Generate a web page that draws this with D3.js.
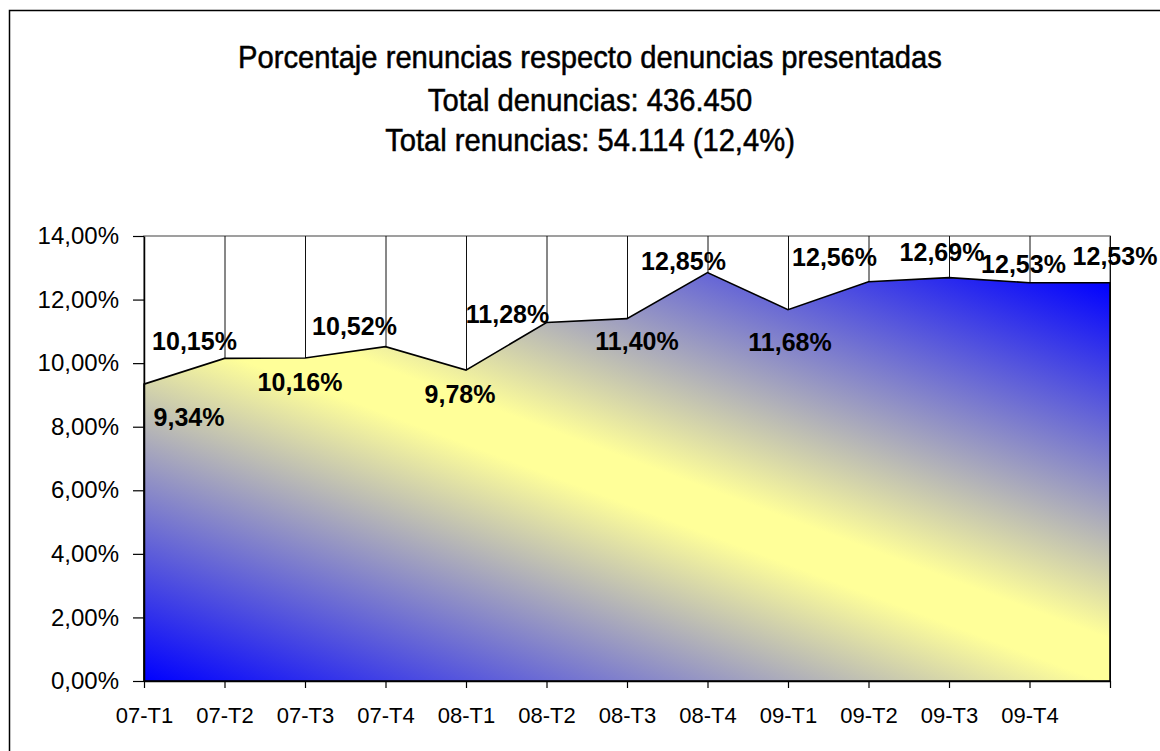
<!DOCTYPE html>
<html>
<head>
<meta charset="utf-8">
<script src="https://cdn.jsdelivr.net/npm/d3@7"></script>
<style>
  body { margin: 0; background: #fff; }
  svg { display: block; }
</style>
</head>
<body>
<div id="chart"></div>
<script>
// quarters (last point has no label on the axis)
var categories = ['07-T1', '07-T2', '07-T3', '07-T4', '08-T1', '08-T2', '08-T3', '08-T4',
    '09-T1', '09-T2', '09-T3', '09-T4', ''];
// % renuncias / denuncias
var values = [9.34, 10.15, 10.16, 10.52, 9.78, 11.28, 11.40, 12.85, 11.68, 12.56, 12.69, 12.53, 12.53];
var yTicks = [0, 2, 4, 6, 8, 10, 12, 14];
var titleLines = [
    'Porcentaje renuncias respecto denuncias presentadas',
    'Total denuncias: 436.450',
    'Total renuncias: 54.114 (12,4%)'
];
// hand placed data labels (dx, dy from the point), like in the original sheet
var labelShift = [[45, 33], [-30, -17], [-5, 24], [-31, -21], [-6, 24], [-39, -8], [10, 22],
    [-24, -12], [2, 32], [-34, -25], [-7, -26], [-6, -19], [5, -27]];

var W = 1160, H = 751;
var margin = { top: 236, right: 50, bottom: 70, left: 144 };

var es = d3.formatLocale({ decimal: ',', thousands: '.', grouping: [3], currency: ['', '€'] });
var fmt = es.format('.2f');
var pct = function (v) { return fmt(v) + '%'; };

var svg = d3.select('#chart')
    .append('svg')
    .attr('width', W)
    .attr('height', H);

// outer frame (runs off the right and bottom edges)
svg.append('rect')
    .attr('x', 9.5)
    .attr('y', 10.5)
    .attr('width', 1300)
    .attr('height', 900)
    .attr('fill', 'none')
    .attr('stroke', '#000')
    .attr('stroke-width', 1.5);

var x = d3.scalePoint()
    .domain(categories)
    .range([margin.left, W - margin.right]);

var y = d3.scaleLinear()
    .domain([0, 14])
    .range([H - margin.bottom, margin.top]);

// blue - yellow - blue band, tilted a bit off vertical
var gradLen = 712;
var gradDir = [0.35, -0.937];
var defs = svg.append('defs');
var grad = defs.append('linearGradient')
    .attr('id', 'fillGrad')
    .attr('gradientUnits', 'userSpaceOnUse')
    .attr('x1', x.range()[0])
    .attr('y1', y(0))
    .attr('x2', x.range()[0] + gradDir[0] * gradLen)
    .attr('y2', y(0) + gradDir[1] * gradLen);
grad.append('stop').attr('offset', '0%').attr('stop-color', '#0000ff');
grad.append('stop').attr('offset', '47%').attr('stop-color', '#ffff99');
grad.append('stop').attr('offset', '53%').attr('stop-color', '#ffff99');
grad.append('stop').attr('offset', '100%').attr('stop-color', '#0000ff');

// plot frame + vertical gridlines
var plot = svg.append('g');
plot.append('rect')
    .attr('x', x.range()[0])
    .attr('y', y(14))
    .attr('width', x.range()[1] - x.range()[0])
    .attr('height', y(0) - y(14))
    .attr('fill', '#fff')
    .attr('stroke', '#808080')
    .attr('stroke-width', 1.5);

plot.selectAll('.grid')
    .data(categories.slice(1))
    .enter()
    .append('line')
    .attr('class', 'grid')
    .attr('x1', function (d) { return x(d) + 0.5; })
    .attr('x2', function (d) { return x(d) + 0.5; })
    .attr('y1', y(14))
    .attr('y2', y(0))
    .attr('stroke', '#111')
    .attr('stroke-width', 1);

var area = d3.area()
    .x(function (d, i) { return x(categories[i]); })
    .y0(y(0))
    .y1(function (d) { return y(d); });

plot.append('path')
    .datum(values)
    .attr('d', area)
    .attr('fill', 'url(#fillGrad)')
    .attr('stroke', '#000')
    .attr('stroke-width', 1.6)
    .attr('stroke-linejoin', 'miter');

// axes
var xAxis = d3.axisBottom(x).tickSize(7).tickSizeOuter(0).tickPadding(19);
var yAxis = d3.axisLeft(y).tickValues(yTicks).tickSize(11).tickSizeOuter(0).tickPadding(14).tickFormat(pct);

var gx = svg.append('g')
    .attr('transform', 'translate(0,' + y(0) + ')')
    .call(xAxis);
gx.selectAll('text')
    .attr('font-family', 'Arial, "Liberation Sans", sans-serif')
    .attr('font-size', 22)
    .attr('fill', '#000');

var gy = svg.append('g')
    .attr('transform', 'translate(' + margin.left + ',0)')
    .call(yAxis);
gy.selectAll('text')
    .attr('font-family', 'Arial, "Liberation Sans", sans-serif')
    .attr('font-size', 24)
    .attr('fill', '#000');

[gx, gy].forEach(function (g) {
    g.select('.domain').attr('stroke', '#000').attr('stroke-width', 1.5);
    g.selectAll('.tick line').attr('stroke', '#000').attr('stroke-width', 1.2);
});

// data labels
svg.append('g')
    .selectAll('text')
    .data(values)
    .enter()
    .append('text')
    .attr('x', function (d, i) { return x(categories[i]) + labelShift[i][0]; })
    .attr('y', function (d, i) { return y(d) + labelShift[i][1]; })
    .attr('dy', '0.36em')
    .attr('text-anchor', 'middle')
    .attr('font-family', 'Arial, "Liberation Sans", sans-serif')
    .attr('font-weight', 'bold')
    .attr('font-size', 25)
    .attr('fill', '#000')
    .text(function (d) { return pct(d); });

// title: Arial squeezed sideways to look like Arial Narrow,
// first line spans about 704px like the original
var title = svg.append('g')
    .attr('font-family', 'Arial, "Liberation Sans", sans-serif')
    .attr('font-size', 31)
    .attr('text-anchor', 'middle')
    .attr('fill', '#000')
    .attr('stroke', '#000')
    .attr('stroke-width', 0.5);

var titleY = [68, 111, 151];
var tl = title.selectAll('text')
    .data(titleLines)
    .enter()
    .append('text')
    .attr('x', 0)
    .attr('y', 0)
    .text(function (d) { return d; });

var sx = 704 / tl.node().getComputedTextLength();
tl.attr('transform', function (d, i) {
    return 'translate(590,' + titleY[i] + ') scale(' + sx + ',1)';
});
</script>
</body>
</html>
